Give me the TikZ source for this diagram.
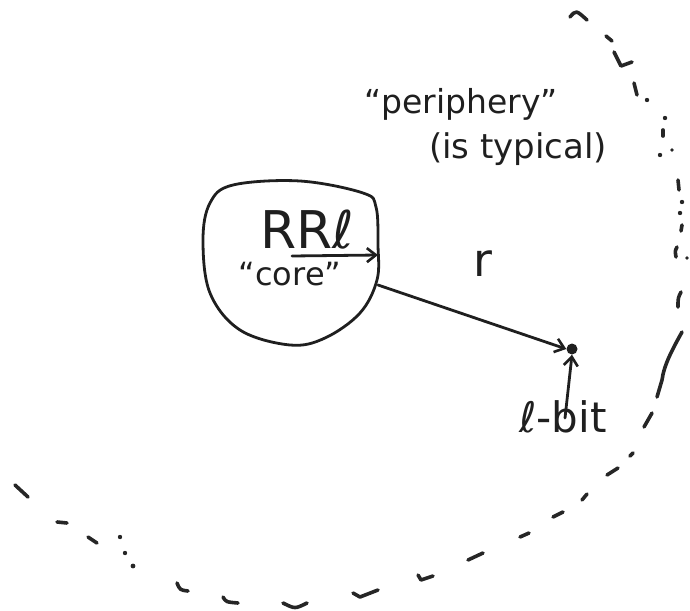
\documentclass[tikz,border=0pt]{standalone}
\usepackage{fontspec}
\setmainfont{DejaVu Sans}
\usetikzlibrary{arrows.meta}
\tikzset{
  ink/.style={draw=black!88, line width=2.8pt, line cap=round, line join=round},
  pmark/.style={draw=black!85, line width=3.6pt, line cap=round, line join=round},
  pdot/.style={fill=black!85},
  arr/.style={ink, -{Straight Barb[length=9pt,width=14pt,line width=2.6pt]}},
  lbl/.style={inner sep=0pt, anchor=base, text=black!88}
}
\begin{document}
\begin{tikzpicture}[x=1pt,y=-1pt]
\useasboundingbox (0,0) rectangle (690,610);
% core blob
\draw[ink] plot[smooth cycle, tension=0.6] coordinates {
  (233,185) (300,181) (363,193) (376,207) (378,245) (377,280)
  (360,313) (325,338) (290,345) (240,330) (210,293) (203,240) (210,203)};
% texts
\node[lbl, font=\fontsize{52}{52}\selectfont] (rrl) at (307,248) {RRℓ};
\node[lbl, font=\fontsize{32}{32}\selectfont] (core) at (290,285) {“core”};
\node[lbl, font=\fontsize{33}{33}\selectfont] (peri) at (461,113) {“periphery”};
\node[lbl, font=\fontsize{34}{34}\selectfont] (typ) at (518,158) {(is typical)};
\node[lbl, font=\fontsize{46}{46}\selectfont] (rlab) at (483,276) {r};
\node[lbl, font=\fontsize{42}{42}\selectfont] (lbit) at (563,432) {ℓ-bit};
% points
\coordinate (rrlA) at (292,256);
\coordinate (rrlB) at (378,255);
\coordinate (rA) at (378,285);
\node[circle, fill=black!88, inner sep=0pt, minimum size=11pt] (dot) at (572,349) {};
\coordinate (lA) at (565,418);
% arrows
\draw[arr] (rrlA) -- (rrlB);
\draw[arr] (rA) -- (dot.west);
\draw[arr] (lA) -- (dot.south);
% periphery dashed boundary
\draw[pmark] (570,17) .. controls (576,10) .. (587,20);
\draw[pmark] (606,36) -- (612,41);
\draw[pmark] (614,52) -- (621,66) -- (632,62);
\draw[pmark] (634,83) -- (637,95);
\fill[pdot] (647,100) circle (2.2pt);
\fill[pdot] (665,118) circle (2.2pt);
\draw[pmark] (663,130) -- (663,136);
\fill[pdot] (660,155) circle (2.2pt);
\fill[pdot] (672,150) circle (1.8pt);
\draw[pmark] (678,180) -- (679,190);
\fill[pdot] (682,202) circle (2.2pt);
\fill[pdot] (680,213) circle (2.2pt);
\draw[pmark] (682,225) -- (681,231);
\draw[pmark] (677,247) .. controls (675,251) .. (676,257);
\fill[pdot] (687,258) circle (1.8pt);
\draw[pmark] (681,292) .. controls (678,298) .. (678,307);
\draw[pmark] (682,332) .. controls (672,350) and (664,365) .. (662,380) -- (657,397);
\draw[pmark] (652,413) -- (644,427);
\draw[pmark] (630,456) -- (633,453);
\draw[pmark] (607,475) -- (618,468);
\draw[pmark] (582,500) -- (587,494);
\draw[pmark] (553,517) -- (563,512);
\draw[pmark] (520,537) -- (529,533);
\draw[pmark] (468,560) -- (483,553);
\draw[pmark] (418,575) -- (421,580) -- (433,576);
\draw[pmark] (353,593) -- (360,597) -- (378,590);
\draw[pmark] (283,603) .. controls (295,609) .. (307,603);
\draw[pmark] (223,597) .. controls (226,602) .. (238,603);
\draw[pmark] (177,583) .. controls (180,590) .. (188,591);
\fill[pdot] (133,566) circle (2.4pt);
\fill[pdot] (125,553) circle (2.2pt);
\fill[pdot] (120,537) circle (2.2pt);
\draw[pmark] (88,537) -- (97,543);
\draw[pmark] (57,522) -- (67,523);
\draw[pmark] (15,485) -- (28,497);
\end{tikzpicture}
\end{document}
